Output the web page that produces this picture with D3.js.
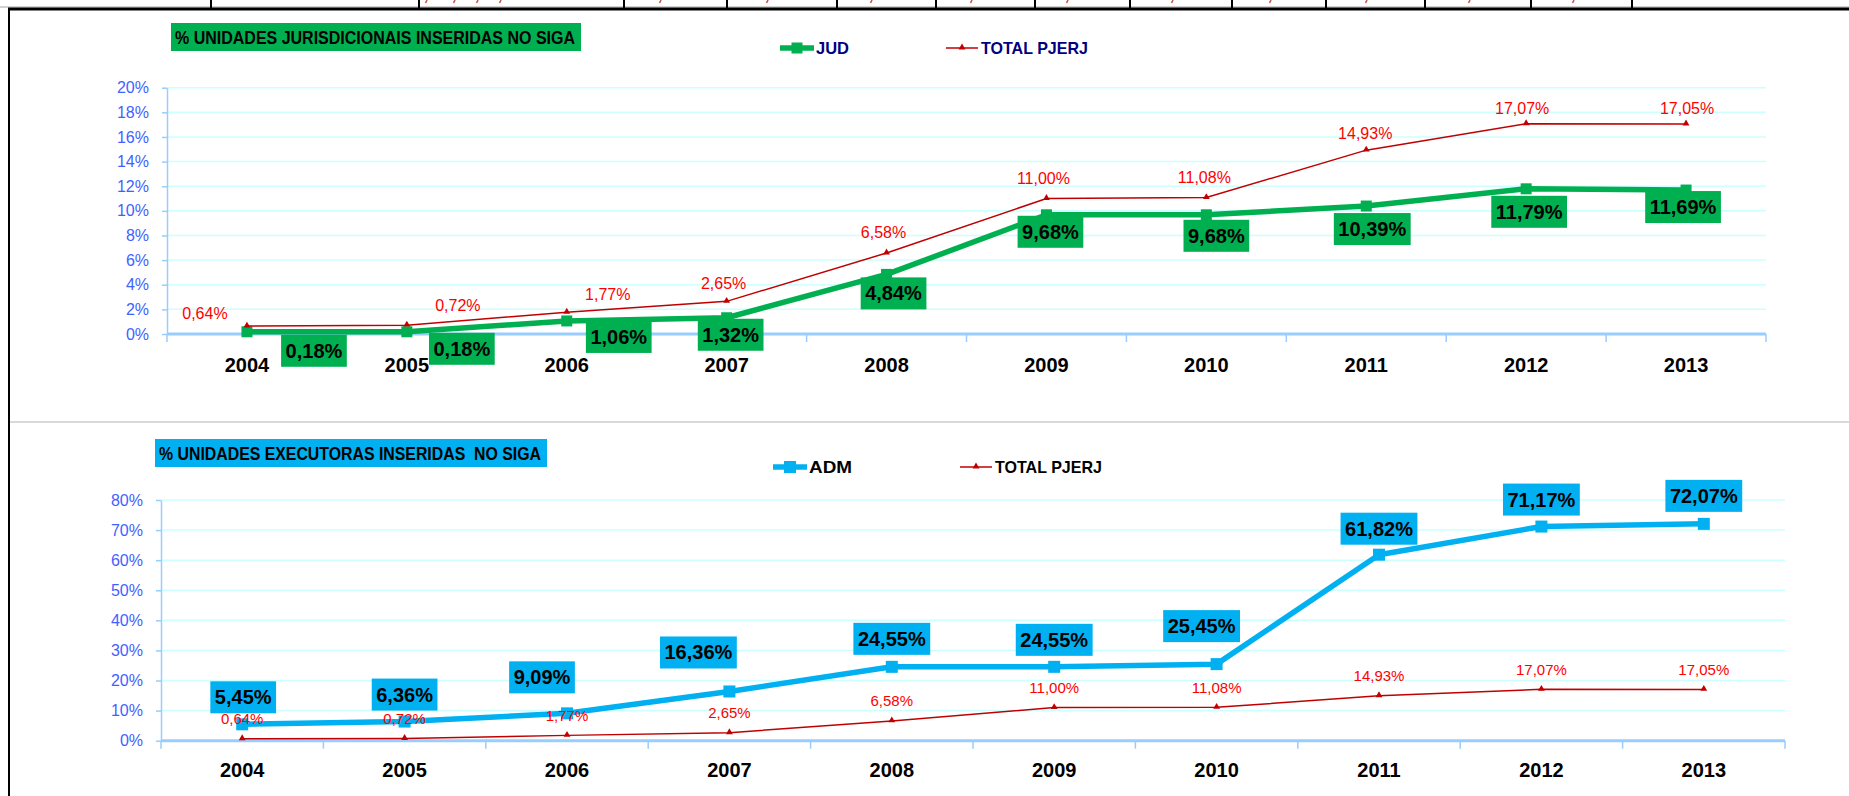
<!DOCTYPE html>
<html>
<head>
<meta charset="utf-8">
<script src="https://cdn.jsdelivr.net/npm/d3@7"></script>
<style>
body { margin: 0; background: #fff; }
svg { display: block; font-family: "Liberation Sans", Arial, sans-serif; }
</style>
</head>
<body>
<svg id="chart" width="1849" height="796"></svg>
<script>
// data (percent values)
let years = ["2004", "2005", "2006", "2007", "2008", "2009", "2010", "2011", "2012", "2013"];
let judValues = [0.18, 0.18, 1.06, 1.32, 4.84, 9.68, 9.68, 10.39, 11.79, 11.69];
let admValues = [5.45, 6.36, 9.09, 16.36, 24.55, 24.55, 25.45, 61.82, 71.17, 72.07];
let totalValues = [0.64, 0.72, 1.77, 2.65, 6.58, 11.00, 11.08, 14.93, 17.07, 17.05];
let judTicks = [0, 2, 4, 6, 8, 10, 12, 14, 16, 18, 20];
let admTicks = [0, 10, 20, 30, 40, 50, 60, 70, 80];

// label nudges (dx, dy from the point), these were dragged by hand in the original
let judLabelShift = [[67, 19], [55, 17], [52, 16], [4, 17], [7, 19], [4, 17], [10, 21], [6, 23], [3, 23], [-3, 17]];
let judTotalShift = [[-42, -13], [51, -20], [41, -18], [-3, -18], [-3, -21], [-3, -20], [-2, -20], [-1, -17], [-4, -16], [1, -16]];
let admLabelShift = [[1, -27], [0, -27], [-25, -36], [-31, -39], [0, -28], [0, -27], [-15, -38], [0, -26], [0, -27], [0, -28]];
let admTotalShift = years.map(function () { return [0, -20]; });

let br = d3.formatLocale({decimal: ",", thousands: ".", grouping: [3], currency: ["R$ ", ""]});
let pct = function (v) { return br.format(".2f")(v) + "%"; };

let svg = d3.select("#chart");

// remains of the spreadsheet table above the charts
let cellLines = [211, 419, 624, 727, 837, 936, 1035, 1130, 1232, 1326, 1425, 1531, 1632];
let cellCommas = [426, 454, 477, 500, 660, 767, 871, 971, 1067, 1172, 1270, 1366, 1469, 1573];
svg.append("line").attr("x1", 0).attr("x2", 1849).attr("y1", 7).attr("y2", 7)
    .attr("stroke", "#a6a6a6").attr("stroke-width", 1);
svg.selectAll(".cellLine").data(cellLines).enter().append("line")
    .attr("x1", d => d).attr("x2", d => d).attr("y1", 0).attr("y2", 9)
    .attr("stroke", "#000").attr("stroke-width", 2);
// only the tails of the commas of the cut table row are visible
svg.selectAll(".cellComma").data(cellCommas).enter().append("line")
    .attr("x1", d => d + 1).attr("x2", d => d - 0.5).attr("y1", 0).attr("y2", 3)
    .attr("stroke", "#c0504d").attr("stroke-width", 1.5);
svg.append("line").attr("x1", 8).attr("x2", 1849).attr("y1", 9).attr("y2", 9)
    .attr("stroke", "#000").attr("stroke-width", 3);
svg.append("line").attr("x1", 9).attr("x2", 9).attr("y1", 8).attr("y2", 796)
    .attr("stroke", "#000").attr("stroke-width", 2);
// separator between the two charts
svg.append("line").attr("x1", 10).attr("x2", 1849).attr("y1", 422).attr("y2", 422)
    .attr("stroke", "#d9d9d9").attr("stroke-width", 2);

function drawChart(o) {
    let g = svg.append("g");
    let x = d3.scaleBand().domain(years).range([o.left, o.right]);
    let y = d3.scaleLinear().domain([0, o.ticks[o.ticks.length - 1]]).range([o.bottom, o.top]);
    let cx = function (i) { return x(years[i]) + x.bandwidth() / 2; };

    // title box
    g.append("rect").attr("x", o.titleX).attr("y", o.titleY)
        .attr("width", o.titleW).attr("height", 28).attr("fill", o.color);
    g.append("text").attr("x", o.titleX + 4).attr("y", o.titleY + 21)
        .attr("font-size", 18).attr("font-weight", "bold").style("white-space", "pre")
        .attr("textLength", o.titleTextW).attr("lengthAdjust", "spacingAndGlyphs")
        .text(o.title);

    // gridlines
    g.selectAll(".grid").data(o.ticks.slice(1)).enter().append("line")
        .attr("x1", o.left).attr("x2", o.right)
        .attr("y1", d => y(d)).attr("y2", d => y(d))
        .attr("stroke", "#ccffff").attr("stroke-width", 1.5);

    // y axis
    let ya = g.append("g").attr("transform", "translate(" + o.left + ",0)")
        .call(d3.axisLeft(y).tickValues(o.ticks).tickFormat(d => d + "%")
            .tickSize(5).tickSizeOuter(0).tickPadding(13));
    ya.attr("font-family", null).attr("font-size", 16);
    ya.select(".domain").attr("stroke", "#99ccff").attr("stroke-width", 1.5);
    ya.selectAll(".tick line").attr("stroke", "#99ccff").attr("stroke-width", 1.5);
    ya.selectAll(".tick text").attr("fill", "#3f62ff");

    // x axis
    let bounds = years.map(d => x(d)).concat([o.right]);
    g.selectAll(".xtick").data(bounds).enter().append("line")
        .attr("x1", d => d).attr("x2", d => d)
        .attr("y1", y(0)).attr("y2", y(0) + 8)
        .attr("stroke", "#99ccff").attr("stroke-width", 1.5);
    g.append("line").attr("x1", o.left).attr("x2", o.right)
        .attr("y1", y(0)).attr("y2", y(0))
        .attr("stroke", "#99ccff").attr("stroke-width", 3);
    g.selectAll(".xlabel").data(years).enter().append("text")
        .attr("x", (d, i) => cx(i)).attr("y", o.labelY)
        .attr("text-anchor", "middle").attr("font-size", 20).attr("font-weight", "bold")
        .text(d => d);

    let line = d3.line().x((d, i) => cx(i)).y(d => y(d));

    // main series
    g.append("path").datum(o.values).attr("d", line)
        .attr("fill", "none").attr("stroke", o.color).attr("stroke-width", 5.5)
        .attr("stroke-linejoin", "round");
    g.selectAll(".mark").data(o.values).enter().append("rect")
        .attr("x", (d, i) => cx(i) - o.mark / 2).attr("y", d => y(d) - o.mark / 2)
        .attr("width", o.mark).attr("height", o.mark).attr("fill", o.color);

    // total PJERJ
    g.append("path").datum(totalValues).attr("d", line)
        .attr("fill", "none").attr("stroke", "#c00000").attr("stroke-width", 1.5);
    g.selectAll(".tri").data(totalValues).enter().append("path")
        .attr("d", d3.symbol(d3.symbolTriangle, 20))
        .attr("transform", (d, i) => "translate(" + cx(i) + "," + (y(d) - 0.5) + ")")
        .attr("fill", "#c00000");

    // main labels in coloured boxes
    o.values.forEach(function (v, i) {
        let bx = cx(i) + o.shift[i][0];
        let by = y(v) + o.shift[i][1];
        let lg = g.append("g");
        let t = lg.append("text").attr("x", bx).attr("y", by + 7)
            .attr("text-anchor", "middle").attr("font-size", 20).attr("font-weight", "bold")
            .text(pct(v));
        let w = t.node().getComputedTextLength() + 9;
        lg.insert("rect", "text").attr("x", bx - w / 2).attr("y", by - 16)
            .attr("width", w).attr("height", 32).attr("fill", o.color);
    });

    // total labels
    g.selectAll(".tlabel").data(totalValues).enter().append("text")
        .attr("x", (d, i) => cx(i) + o.totalShift[i][0])
        .attr("y", (d, i) => y(d) + o.totalShift[i][1] + o.totalSize * 0.36)
        .attr("text-anchor", "middle").attr("font-size", o.totalSize).attr("fill", "#ff0000")
        .text(d => pct(d));

    // legend
    let lx = o.legendX, ly = o.legendY;
    g.append("line").attr("x1", lx).attr("x2", lx + 34).attr("y1", ly).attr("y2", ly)
        .attr("stroke", o.color).attr("stroke-width", 5.5);
    g.append("rect").attr("x", lx + 17 - o.mark / 2).attr("y", ly - o.mark / 2)
        .attr("width", o.mark).attr("height", o.mark).attr("fill", o.color);
    g.append("text").attr("x", lx + 36).attr("y", ly + 6)
        .attr("font-size", 17).attr("font-weight", "bold").attr("fill", o.legendColor)
        .attr("textLength", o.nameW).attr("lengthAdjust", "spacingAndGlyphs")
        .text(o.name);
    let tx = o.totalLegendX;
    g.append("line").attr("x1", tx).attr("x2", tx + 32).attr("y1", ly).attr("y2", ly)
        .attr("stroke", "#c00000").attr("stroke-width", 1.5);
    g.append("path").attr("d", d3.symbol(d3.symbolTriangle, 20))
        .attr("transform", "translate(" + (tx + 16) + "," + (ly - 0.5) + ")").attr("fill", "#c00000");
    g.append("text").attr("x", tx + 35).attr("y", ly + 6)
        .attr("font-size", 17).attr("font-weight", "bold").attr("fill", o.legendColor)
        .attr("textLength", 107).attr("lengthAdjust", "spacingAndGlyphs")
        .text("TOTAL PJERJ");
}

drawChart({
    title: "% UNIDADES JURISDICIONAIS INSERIDAS NO SIGA",
    titleX: 171, titleY: 23, titleW: 410, titleTextW: 400,
    name: "JUD", nameW: 33, values: judValues, color: "#00b050",
    ticks: judTicks, left: 167, right: 1766, top: 87.7, bottom: 334,
    labelY: 372, mark: 11,
    shift: judLabelShift, totalShift: judTotalShift, totalSize: 16,
    legendX: 780, legendY: 48, totalLegendX: 946, legendColor: "#000080"
});

drawChart({
    title: "% UNIDADES EXECUTORAS INSERIDAS  NO SIGA",
    titleX: 155, titleY: 439, titleW: 392, titleTextW: 382,
    name: "ADM", nameW: 43, values: admValues, color: "#00b0f0",
    ticks: admTicks, left: 161, right: 1785, top: 500, bottom: 740.7,
    labelY: 777, mark: 12,
    shift: admLabelShift, totalShift: admTotalShift, totalSize: 15,
    legendX: 773, legendY: 467, totalLegendX: 960, legendColor: "#000"
});
</script>
</body>
</html>
